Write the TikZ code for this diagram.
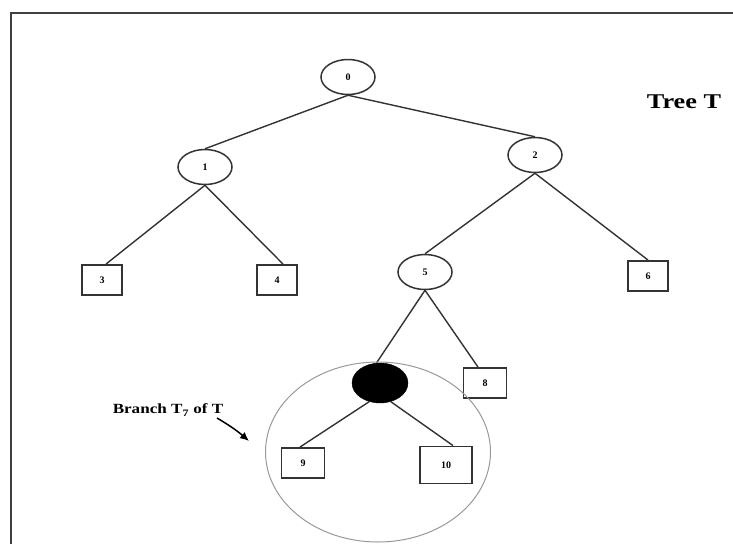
\documentclass[tikz,border=0pt]{standalone}
\usepackage{fontspec}
\setmainfont{Liberation Serif}
\usetikzlibrary{shapes.geometric,arrows.meta}
\begin{document}
\begin{tikzpicture}[x=1pt,y=-1pt,
  edge/.style={draw=black!80,line width=1.4pt},
  inner/.style={ellipse,draw=black!80,line width=1.5pt,minimum width=54pt,minimum height=35pt,inner sep=0pt,font=\fontsize{10}{10}\selectfont\bfseries},
  leaf/.style={rectangle,draw=black!80,line width=1.9pt,minimum width=40pt,minimum height=30pt,inner sep=0pt,font=\fontsize{10}{10}\selectfont\bfseries},
  lbl/.style={inner sep=0pt}]
\useasboundingbox (0,0) rectangle (733,544);
\fill[white] (0,0) rectangle (733,544);
% frame
\draw[black!75,line width=2.4pt] (11,544) -- (11,13) -- (733,13);
% internal nodes
\node[inner] (n0) at (348,77) {0};
\node[inner] (n1) at (205,167) {1};
\node[inner] (n2) at (535,155) {2};
\node[inner] (n5) at (425,272) {5};
\node[ellipse,fill=black,draw=black,minimum width=56pt,minimum height=40pt,inner sep=0pt] (n7) at (380,383) {};
% leaves
\node[leaf] (n3) at (102,280) {3};
\node[leaf] (n4) at (277,280) {4};
\node[leaf] (n6) at (648,276) {6};
\node[leaf,minimum width=43pt] (n8) at (485,383) {8};
\node[leaf,minimum width=43pt] (n9) at (303,463) {9};
\node[leaf,minimum width=52pt,minimum height=37pt] (n10) at (446,465) {10};
% edges
\draw[edge] (n0.south) -- (n1.north);
\draw[edge] (n0.south) -- (n2.north);
\draw[edge] (n1.south) -- ([xshift=4pt]n3.north);
\draw[edge] (n1.south) -- ([xshift=6pt]n4.north);
\draw[edge] (n2.south) -- (n5.north);
\draw[edge] (n2.south) -- (n6.north);
\draw[edge] (n5.south) -- (n7.100);
\draw[edge] (n5.south) -- ([xshift=-7pt]n8.north);
\draw[edge] (n7.-120) -- ([xshift=-3pt]n9.north);
\draw[edge] (n7.-60) -- ([xshift=7pt]n10.north);
% branch outline
\node[ellipse,draw=black!40,line width=1pt,minimum width=225pt,minimum height=180pt,inner sep=0pt] (br) at (378,452) {};
% labels
\node[lbl] (tree) at (684,102) {\scalebox{1.25}[1]{\fontsize{21}{21}\selectfont\bfseries Tree T}};
\node[lbl] (blab) at (168,410) {\scalebox{1.22}[1]{\fontsize{14}{14}\selectfont\bfseries Branch T\textsubscript{7} of T}};
\coordinate (tail) at (217,418);
\coordinate (tip) at (249,441);
\draw[black,line width=1.5pt,-{Latex[length=9pt,width=8pt]}] (tail) to[bend left=5] (tip);
\end{tikzpicture}
\end{document}
